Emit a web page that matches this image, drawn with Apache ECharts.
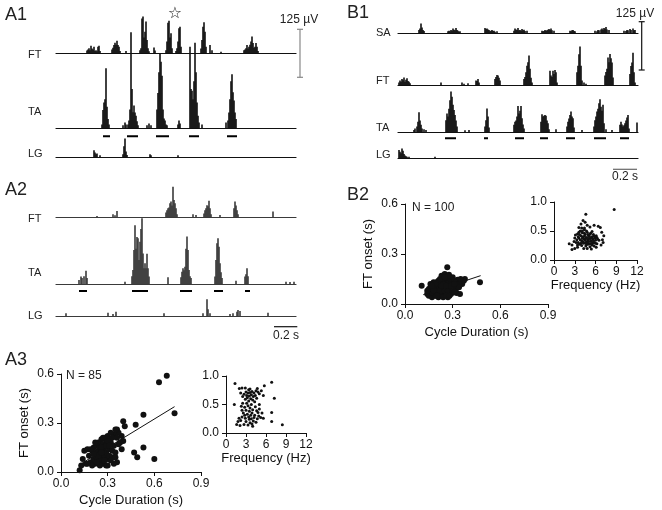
<!DOCTYPE html>
<html>
<head>
<meta charset="UTF-8">
<title>FT / TA / LG bursts</title>
<script src="https://cdn.jsdelivr.net/npm/echarts@6/dist/echarts.min.js"></script>
<style>html,body{margin:0;background:#fff}#fig{width:662px;height:510px}</style>
</head>
<body>
<div id="fig"></div>
<script>
// rectified EMG: [sample, amplitude uV], one sample ~ 1/115 s
var a1FT = [[31,7],[32,10],[33,13],[34,8],[35,19],[36,12],[37,10],[38,17],[39,6],[40,8],[41,5],[42,17],[43,19],[44,6],
  [56,10],[57,14],[58,21],[59,27],[60,22],[61,32],[62,21],[63,17],[64,6],[70,6],
  [84,8],[85,13],[86,89],[87,94],[88,40],[89,55],[90,81],[91,34],[92,13],[93,5],[98,15],[99,7],
  [110,8],[111,30],[112,78],[113,83],[114,40],[115,51],[116,13],[120,6],[121,13],[122,30],[123,64],[124,68],[125,17],
  [145,12],[146,34],[147,68],[148,79],[149,55],[150,17],[154,21],[156,8],[165,4],
  [188,8],[189,10],[190,13],[191,21],[192,12],[193,17],[194,22],[195,30],[196,43],[197,26],[198,14],[199,17],[200,26],[201,17],[202,6]];
var a1TA = [[46,10],[47,47],[48,66],[49,74],[50,153],[51,55],[52,24],[53,10],
  [67,8],[69,15],[70,10],[72,10],[73,20],[74,48],[75,245],[76,100],[77,41],[78,58],[79,40],[80,32],[81,18],[82,8],
  [91,8],[93,12],[95,8],
  [101,48],[102,90],[103,143],[104,191],[105,170],[106,134],[107,48],[108,25],[109,20],[110,10],[111,8],
  [122,10],[123,20],[124,12],
  [134,208],[135,100],[136,96],[137,74],[138,120],[139,218],[140,143],[141,66],[142,32],[143,15],[146,10],
  [170,15],[172,20],[173,40],[174,74],[175,120],[176,138],[177,92],[178,71],[179,40],[180,24]];
var a1LG = [[38,18],[39,12],[40,8],[41,10],[44,5],[67,8],[68,28],[69,48],[70,15],[71,6],[94,8],[95,5],[122,5]];
var a1TAbars = [[47,54],[71,82],[100,113],[133,143],[171,181]];

var a2FT = [[41,3],[57,8],[59,5],[61,16],[110,12],[111,18],[112,23],[113,25],[114,36],[115,40],[116,30],[117,78],[118,44],[119,36],[120,23],[121,8],
  [137,8],[140,6],[148,10],[149,18],[150,23],[151,31],[152,28],[153,42],[154,23],[155,8],[164,6],
  [178,23],[179,40],[180,30],[181,18],[182,8],[217,15]];
var a2TA = [[23,10],[25,19],[26,15],[28,20],[30,34],[31,15],[69,6],
  [76,20],[77,36],[78,87],[79,150],[80,90],[81,120],[82,117],[83,61],[84,108],[85,140],[86,168],[87,78],[88,40],[89,53],[90,40],[91,77],[92,40],[93,19],
  [112,17],[125,17],[126,31],[127,40],[128,35],[129,44],[130,90],[131,121],[132,87],[133,36],[134,20],[135,15],
  [159,19],[160,61],[161,104],[162,117],[163,95],[164,53],[165,30],[166,15],[180,8],
  [189,19],[190,25],[191,40],[192,20],[230,6],[234,5],[238,6]];
var a2LG = [[10,7],[52,8],[57,5],[60,11],[108,7],[147,7],[151,43],[152,17],[154,7],[174,5],[177,7],[181,11],[182,15],[184,13],[212,8]];
var a2TAbars = [[23,31],[76,92],[124,136],[158,167],[189,194]];

var b1SA = [[21,10],[22,15],[23,30],[24,18],[25,10],[26,7],
  [50,6],[51,8],[52,6],[53,10],[54,8],[55,15],[56,11],[57,9],[58,16],[59,10],[60,8],[61,5],[62,6],
  [87,16],[88,13],[89,15],[90,12],[91,10],[92,6],[93,8],[94,10],[95,7],[96,8],[97,5],[99,6],
  [116,8],[117,15],[118,12],[119,10],[120,16],[121,9],[122,10],[123,8],[124,13],[125,9],[126,11],[127,7],[129,8],
  [144,8],[145,6],[146,7],[147,10],[148,8],[149,9],[150,11],[151,13],[152,10],[153,15],[154,9],[156,8],
  [172,8],[173,6],[174,9],[175,10],[176,7],[177,6],
  [197,8],[199,6],[200,10],[201,9],[203,12],[204,15],[205,11],[206,16],[207,14],[208,19],[209,12],[211,10],
  [226,8],[228,7],[229,10],[230,9],[232,13],[233,10],[235,15],[236,9],[237,10]];
var b1FT = [[1,8],[2,13],[3,10],[4,17],[5,14],[6,21],[7,10],[8,15],[9,19],[10,12],[11,10],[12,6],
  [43,8],[64,8],[66,5],[70,6],[78,13],[79,12],[80,17],[81,8],
  [97,17],[98,22],[99,27],[100,26],[101,20],[102,13],
  [126,17],[127,22],[128,34],[129,51],[130,60],[131,77],[132,43],[133,20],[134,8],
  [152,38],[153,26],[154,22],[155,38],[156,30],[157,40],[158,34],[159,8],
  [179,34],[180,51],[181,80],[182,100],[183,51],[184,13],[186,8],[188,5],
  [207,26],[208,35],[209,43],[210,72],[211,60],[212,81],[213,70],[214,59],[215,21],
  [232,30],[233,50],[234,59],[235,84],[236,34],[237,8]];
var b1TA = [[16,6],[17,10],[19,15],[20,27],[21,51],[22,30],[23,19],[24,10],[26,8],[28,6],
  [48,31],[49,48],[50,40],[51,60],[52,82],[53,104],[54,91],[55,70],[56,57],[57,44],[58,30],[59,15],[67,5],[71,6],
  [87,15],[88,31],[89,61],[90,40],[91,12],
  [116,19],[117,27],[118,30],[119,40],[120,67],[121,48],[122,55],[123,67],[124,36],[125,20],[126,10],
  [143,27],[144,46],[145,40],[146,42],[147,44],[148,42],[149,30],[150,23],[151,8],[158,8],
  [169,15],[170,27],[171,35],[172,44],[173,53],[174,40],[175,36],[176,12],[184,6],
  [196,15],[197,31],[198,40],[199,53],[200,60],[201,74],[202,84],[203,65],[204,55],[205,70],[206,23],[208,8],[214,6],
  [222,19],[223,27],[224,20],[225,15],[226,18],[227,23],[228,30],[229,38],[230,44],[231,10],[239,25]];
var b1LG = [[1,22],[2,18],[3,14],[4,26],[5,20],[6,12],[7,8],[8,6],[9,5],[11,5],[37,5]];
var b1TAbars = [[47,58],[86,90],[117,126],[142,150],[168,177],[196,208],[222,231]];

// A3: [cycle duration s, FT onset s] and [frequency Hz, FT onset phase]
var a3Onset = [[0.68,0.59],[0.63,0.55],[0.73,0.36],[0.53,0.35],[0.48,0.29],[0.40,0.31],[0.41,0.28],[0.53,0.15],[0.47,0.12],[0.49,0.09],
  [0.60,0.08],[0.39,0.22],[0.40,0.19],[0.36,0.26],[0.37,0.24],[0.34,0.23],
  [0.12,0.01],[0.13,0.04],[0.14,0.08],[0.16,0.05],[0.15,0.13],[0.17,0.14],[0.18,0.10],[0.19,0.06],[0.20,0.13],[0.21,0.08],
  [0.21,0.15],[0.22,0.12],[0.22,0.05],[0.23,0.09],[0.23,0.16],[0.24,0.13],[0.24,0.18],[0.25,0.07],[0.25,0.11],[0.25,0.15],
  [0.26,0.20],[0.26,0.09],[0.27,0.17],[0.27,0.13],[0.27,0.05],[0.28,0.21],[0.28,0.10],[0.28,0.15],[0.29,0.19],[0.29,0.04],
  [0.29,0.12],[0.30,0.22],[0.30,0.17],[0.30,0.08],[0.31,0.20],[0.31,0.14],[0.31,0.10],[0.32,0.24],[0.32,0.18],[0.33,0.13],
  [0.33,0.21],[0.34,0.16],[0.35,0.26],[0.35,0.12],[0.36,0.06],[0.36,0.21],[0.38,0.18],[0.39,0.14],[0.33,0.09],[0.34,0.05],
  [0.20,0.04],[0.17,0.05],[0.30,0.04],[0.26,0.15],[0.22,0.18],[0.19,0.14],[0.32,0.07],[0.37,0.17],[0.28,0.07],[0.25,0.04],
  [0.24,0.10],[0.29,0.16],[0.35,0.09],[0.27,0.21],[0.30,0.19],[0.23,0.06],[0.21,0.11],[0.26,0.12],[0.31,0.16]];
var a3Fit = [[0.12,0.045],[0.73,0.40]];
var a3Freq = [[2.4,0.79],[2.9,0.79],[3.4,0.76],[3.0,0.72],[3.3,0.70],[3.6,0.71],[3.9,0.73],[4.2,0.70],[4.5,0.74],[4.8,0.72],
  [2.7,0.68],[3.1,0.66],[3.5,0.65],[3.8,0.67],[4.1,0.64],[4.4,0.66],[5.0,0.69],[5.3,0.74],[2.2,0.70],[2.5,0.64],
  [3.2,0.62],[3.7,0.60],[4.0,0.58],[4.6,0.61],[3.4,0.56],[4.3,0.55],[2.9,0.59],[5.6,0.66],[5.75,0.83],[6.85,0.89],
  [7.25,0.61],[1.35,0.87],[4.7,0.78],[3.6,0.77],[2.0,0.78],
  [1.25,0.50],[2.3,0.47],[2.8,0.45],[3.3,0.48],[3.8,0.50],[4.4,0.46],[3.0,0.40],[3.5,0.38],[4.0,0.41],[4.6,0.39],
  [5.0,0.42],[2.6,0.35],[3.2,0.33],[3.9,0.35],[4.3,0.31],[4.8,0.36],[2.4,0.28],[2.9,0.26],[3.4,0.28],[3.8,0.25],
  [4.2,0.27],[4.7,0.25],[5.2,0.27],[5.6,0.26],[1.95,0.26],[2.2,0.22],[3.0,0.20],[3.6,0.18],[4.1,0.21],[2.7,0.15],
  [3.3,0.14],[3.9,0.16],[1.6,0.15],[2.1,0.13],[6.85,0.36],[6.85,0.20],[8.45,0.145],[2.5,0.52],[3.6,0.44],[4.9,0.30],
  [2.4,0.40],[3.7,0.31],[5.4,0.35],[3.1,0.52],[4.5,0.19],[2.8,0.31],[4.0,0.12],[1.8,0.20],[3.5,0.24],[5.0,0.50]];

// B2
var b2Onset = [[0.105,0.11],[0.266,0.22],[0.472,0.13],[0.325,0.066],[0.346,0.06],[0.277,0.176],[0.331,0.146],[0.377,0.15],[0.36,0.14],[0.30,0.16],
  [0.14,0.06],[0.15,0.05],[0.16,0.07],[0.17,0.04],[0.18,0.06],[0.19,0.05],[0.20,0.07],[0.21,0.04],[0.22,0.06],[0.23,0.05],
  [0.24,0.07],[0.25,0.05],[0.26,0.06],[0.27,0.04],[0.28,0.07],[0.29,0.06],[0.17,0.07],[0.19,0.08],[0.21,0.07],[0.23,0.08],
  [0.15,0.09],[0.16,0.10],[0.17,0.09],[0.18,0.11],[0.19,0.10],[0.20,0.09],[0.21,0.11],[0.22,0.10],[0.23,0.09],[0.24,0.11],
  [0.25,0.10],[0.26,0.09],[0.27,0.11],[0.28,0.10],[0.29,0.09],[0.30,0.11],[0.31,0.10],[0.32,0.09],[0.33,0.11],[0.20,0.12],
  [0.22,0.08],[0.25,0.08],[0.27,0.08],[0.18,0.08],
  [0.20,0.13],[0.21,0.14],[0.22,0.12],[0.23,0.13],[0.24,0.15],[0.25,0.13],[0.26,0.12],[0.27,0.14],[0.28,0.13],[0.29,0.15],
  [0.30,0.12],[0.31,0.14],[0.32,0.13],[0.33,0.12],[0.34,0.14],[0.35,0.13],[0.36,0.12],[0.37,0.14],[0.24,0.12],[0.26,0.16],
  [0.28,0.16],[0.23,0.17],[0.25,0.18],[0.22,0.15],
  [0.16,0.12],[0.18,0.13],[0.14,0.08],[0.30,0.08],[0.32,0.12],[0.34,0.10],[0.35,0.15],[0.19,0.12],[0.21,0.05],[0.24,0.04],
  [0.26,0.05],[0.28,0.05],[0.20,0.05],[0.17,0.11],[0.29,0.12],[0.31,0.07],[0.27,0.17],[0.25,0.16],[0.23,0.11],[0.26,0.11],
  [0.29,0.11],[0.31,0.12]];
var b2Fit = [[0.115,0.056],[0.476,0.17]];
var b2Freq = [[8.7,0.87],[4.6,0.79],[4.2,0.68],[4.5,0.65],[3.9,0.62],[4.8,0.60],[5.8,0.60],[6.4,0.58],[5.2,0.57],[3.6,0.56],
  [4.4,0.55],[2.2,0.28],[2.6,0.18],[3.0,0.20],[3.4,0.22],[6.7,0.56],[7.0,0.35],[7.2,0.42],[6.9,0.48],
  [3.4,0.45],[3.6,0.38],[3.8,0.50],[3.9,0.42],[4.0,0.33],[4.1,0.47],[4.2,0.40],[4.3,0.36],[4.4,0.52],[4.5,0.44],
  [4.6,0.30],[4.7,0.39],[4.8,0.48],[4.9,0.35],[5.0,0.42],[5.1,0.28],[5.2,0.37],[5.3,0.46],[5.4,0.32],[5.5,0.40],
  [5.6,0.36],[5.7,0.44],[5.8,0.30],[5.9,0.38],[6.0,0.34],[6.1,0.42],[6.2,0.28],[6.3,0.36],[3.5,0.30],[3.7,0.27],
  [4.0,0.25],[4.3,0.29],[4.6,0.24],[4.9,0.27],[5.2,0.23],[5.5,0.26],[5.8,0.24],[6.1,0.22],[3.3,0.35],[3.6,0.48],
  [4.0,0.55],[4.4,0.46],[4.7,0.50],[5.0,0.37],[5.3,0.33],[5.6,0.29],[3.8,0.35],[4.1,0.38],[4.5,0.34],[4.8,0.31],
  [5.1,0.41],[5.4,0.38],[5.7,0.33],[6.0,0.29],[3.9,0.29],[4.2,0.31],[4.6,0.37],[4.9,0.44],[5.2,0.45],[5.5,0.49],
  [3.5,0.40],[3.2,0.30],[2.9,0.32],[2.6,0.26],[3.0,0.38],[4.3,0.20],[4.8,0.20],[5.4,0.19],[6.5,0.34],[6.8,0.26],
  [7.1,0.30],[3.7,0.44],[4.1,0.50],[4.4,0.41],[5.0,0.32],[5.8,0.41],[6.2,0.39],[3.1,0.43],[4.7,0.27],[5.3,0.28],[3.4,0.26]];

var FONT = 'Liberation Sans, Arial, sans-serif';
var UV_PER_PX = 125 / 49;
var H = 40;

var rows = [
  {data: a1FT, x0: 56, base: 53.3, name: 'FT', ly: 55, color: '#111'},
  {data: a1TA, x0: 56, base: 128.3, name: 'TA', ly: 112, color: '#111', bars: a1TAbars, barOff: 8},
  {data: a1LG, x0: 56, base: 157.3, name: 'LG', ly: 154, color: '#111'},
  {data: a2FT, x0: 56, base: 217.3, name: 'FT', ly: 219, color: '#3a3a3a'},
  {data: a2TA, x0: 56, base: 284, name: 'TA', ly: 273, color: '#3a3a3a', bars: a2TAbars, barOff: 7},
  {data: a2LG, x0: 56, base: 316, name: 'LG', ly: 316, color: '#3a3a3a'},
  {data: b1SA, x0: 398, base: 33.3, name: 'SA', ly: 33, color: '#111'},
  {data: b1FT, x0: 398, base: 85.7, name: 'FT', ly: 81, color: '#111'},
  {data: b1TA, x0: 398, base: 132.3, name: 'TA', ly: 128, color: '#111', bars: b1TAbars, barOff: 6},
  {data: b1LG, x0: 398, base: 158.7, name: 'LG', ly: 155, color: '#111'}
];

var grid = [], xAxis = [], yAxis = [], series = [], graphic = [];

rows.forEach(function (r, i) {
  grid.push({left: r.x0, top: r.base - H, width: 240, height: H});
  xAxis.push({type: 'value', gridIndex: i, min: 0, max: 240,
    axisLine: {show: true, onZero: false, lineStyle: {color: r.color, width: 1.2}},
    axisTick: {show: false}, axisLabel: {show: false}, splitLine: {show: false}});
  yAxis.push({type: 'value', gridIndex: i, min: 0, max: H * UV_PER_PX, show: false, splitLine: {show: false}});
  series.push({type: 'bar', xAxisIndex: i, yAxisIndex: i, data: r.data, barWidth: 1.6, clip: false,
    itemStyle: {color: r.color}, silent: true});
  if (r.bars) {
    r.bars.forEach(function (b) {
      var off = -r.barOff * UV_PER_PX;
      series.push({type: 'line', xAxisIndex: i, yAxisIndex: i, data: [[b[0], off], [b[1], off]],
        showSymbol: false, clip: false, lineStyle: {color: '#000', width: 2}, silent: true});
    });
  }
  graphic.push({type: 'text', x: r.x0 < 200 ? 28 : 376, y: r.ly,
    style: {text: r.name, font: '11px ' + FONT, fill: '#222', textAlign: 'left', textVerticalAlign: 'middle'}});
});

function scatterAxes(g, xmax, xint, ymax, yint, xname, yname, xdec, ydec, nameGapX, nameGapY) {
  var lab = {fontFamily: FONT, fontSize: 12, color: '#111'};
  xAxis.push({type: 'value', gridIndex: g, min: 0, max: xmax, interval: xint,
    name: xname, nameLocation: 'middle', nameGap: nameGapX, nameTextStyle: {fontFamily: FONT, fontSize: 13, color: '#111'},
    axisLine: {lineStyle: {color: '#111'}}, axisTick: {length: 4, lineStyle: {color: '#111'}},
    axisLabel: Object.assign({margin: 6, formatter: function (v) { return v.toFixed(xdec); }}, lab),
    splitLine: {show: false}});
  yAxis.push({type: 'value', gridIndex: g, min: 0, max: ymax, interval: yint,
    name: yname, nameLocation: 'middle', nameGap: nameGapY, nameTextStyle: {fontFamily: FONT, fontSize: 13, color: '#111'},
    axisLine: {show: true, lineStyle: {color: '#111'}}, axisTick: {show: true, length: 4, lineStyle: {color: '#111'}},
    axisLabel: Object.assign({margin: 7, formatter: function (v) { return v.toFixed(ydec); }}, lab),
    splitLine: {show: false}});
}

var g0 = rows.length;
// A3 main, A3 inset, B2 main, B2 inset
grid.push({left: 61, top: 374, width: 140, height: 98});
scatterAxes(g0, 0.9, 0.3, 0.6, 0.3, 'Cycle Duration (s)', 'FT onset (s)', 1, 1, 22, 30);
grid.push({left: 226, top: 376, width: 80, height: 57});
scatterAxes(g0 + 1, 12, 3, 1, 0.5, 'Frequency (Hz)', '', 0, 1, 19, 20);
grid.push({left: 405, top: 204, width: 143, height: 100});
scatterAxes(g0 + 2, 0.9, 0.3, 0.6, 0.3, 'Cycle Duration (s)', 'FT onset (s)', 1, 1, 22, 30);
grid.push({left: 554, top: 202, width: 83, height: 58});
scatterAxes(g0 + 3, 12, 3, 1, 0.5, 'Frequency (Hz)', '', 0, 1, 19, 20);

function dots(g, data, size) {
  series.push({type: 'scatter', xAxisIndex: g, yAxisIndex: g, data: data, symbolSize: size,
    itemStyle: {color: '#111', opacity: 1}, silent: true});
}
function fit(g, data) {
  series.push({type: 'line', xAxisIndex: g, yAxisIndex: g, data: data, showSymbol: false,
    lineStyle: {color: '#111', width: 1}, silent: true});
}
dots(g0, a3Onset, 6); fit(g0, a3Fit);
dots(g0 + 1, a3Freq, 3);
dots(g0 + 2, b2Onset, 6); fit(g0 + 2, b2Fit);
dots(g0 + 3, b2Freq, 3);

function txt(x, y, s, size, align) {
  graphic.push({type: 'text', x: x, y: y,
    style: {text: s, font: size + 'px ' + FONT, fill: '#222', textAlign: align || 'left', textVerticalAlign: 'middle'}});
}
function seg(x1, y1, x2, y2, c) {
  graphic.push({type: 'line', shape: {x1: x1, y1: y1, x2: x2, y2: y2}, style: {stroke: c, lineWidth: 1.2}});
}
txt(5, 15, 'A1', 18); txt(5, 190, 'A2', 18); txt(5, 360, 'A3', 18);
txt(347, 13, 'B1', 18); txt(347, 195, 'B2', 18);
txt(66, 376, 'N = 85', 12); txt(412, 208, 'N = 100', 12);

// 125 uV and 0.2 s scale bars
txt(299, 20, '125 µV', 12, 'center');
seg(300, 29.3, 300, 77.3, '#888'); seg(297, 29.3, 303, 29.3, '#888'); seg(297, 77.3, 303, 77.3, '#888');
txt(635, 14, '125 µV', 12, 'center');
seg(641.7, 21.7, 641.7, 70, '#111'); seg(638.7, 21.7, 644.7, 21.7, '#111'); seg(638.7, 70, 644.7, 70, '#111');
seg(274, 326.7, 297.3, 326.7, '#111'); txt(286, 336, '0.2 s', 12, 'center');
seg(613, 169.3, 637, 169.3, '#666'); txt(625, 177, '0.2 s', 12, 'center');
graphic.push({type: 'text', x: 175, y: 14,
  style: {text: '\u2606', font: '16px DejaVu Sans', fill: '#222', textAlign: 'center', textVerticalAlign: 'middle'}});

var chart = echarts.init(document.getElementById('fig'), null, {renderer: 'canvas'});
chart.setOption({
  animation: false,
  backgroundColor: '#fff',
  grid: grid, xAxis: xAxis, yAxis: yAxis, series: series, graphic: graphic
});
</script>
</body>
</html>
